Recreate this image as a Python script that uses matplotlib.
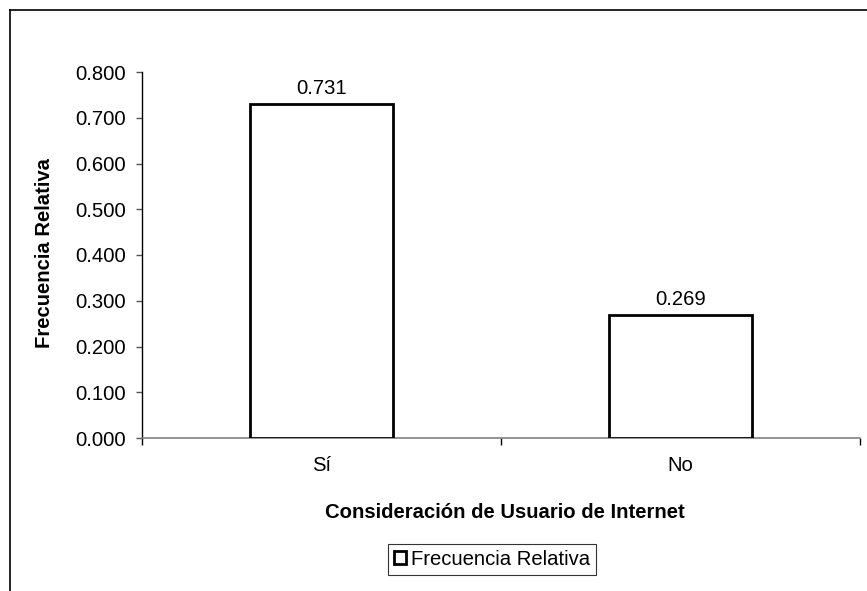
import matplotlib
matplotlib.use("Agg")
import matplotlib.pyplot as plt
from matplotlib.lines import Line2D
from matplotlib.patches import Patch

categories = ["Sí", "No"]
values = [0.731, 0.269]
value_labels = ["0.731", "0.269"]
yticks = [0.0, 0.1, 0.2, 0.3, 0.4, 0.5, 0.6, 0.7, 0.8]
series_name = "Frecuencia Relativa"
xlabel = "Consideración de Usuario de Internet"
ylabel = "Frecuencia Relativa"

plt.rcParams['font.family'] = ['Liberation Sans', 'DejaVu Sans']
FS = 14.6

W, H = 867, 591
fig = plt.figure(figsize=(W / 100, H / 100), dpi=100)
ax = fig.add_axes([142 / W, 1 - 438 / H, (860 - 142) / W, (438 - 72) / H])

x = list(range(len(categories)))
ax.bar(x, values, width=0.4, color="white", edgecolor="black", linewidth=2, zorder=3)
for xi, v, lab in zip(x, values, value_labels):
    ax.annotate(lab, (xi, v), xytext=(0, 4), textcoords="offset points",
                ha="center", va="bottom", fontsize=FS)

ax.set_xlim(-0.5, len(categories) - 0.5)
ax.set_ylim(0, 0.8)
ax.set_yticks(yticks)
ax.set_yticklabels([f"{t:.3f}" for t in yticks], fontsize=FS)
ax.set_xticks(x)
ax.set_xticklabels(categories, fontsize=FS)
ax.tick_params(axis="x", length=0, pad=13)
ax.tick_params(axis="y", length=4, width=1, color="#555555", pad=7.5)
# category boundary ticks
ax.set_xticks([-0.5, 0.5, 1.5], minor=True)
ax.tick_params(axis="x", which="minor", length=5, width=1, color="black", direction="out")

for s in ["top", "right"]:
    ax.spines[s].set_visible(False)
ax.spines["left"].set_color("black")
ax.spines["left"].set_linewidth(1)
ax.spines["bottom"].set_color("#808080")
ax.spines["bottom"].set_linewidth(1.2)

fig.text(505 / W, 1 - 513 / H, xlabel, ha="center", va="center", fontsize=FS, fontweight="bold")
fig.text(45 / W, 1 - 253 / H, ylabel, ha="center", va="center", rotation=90, fontsize=FS, fontweight="bold")

handle = Patch(facecolor="white", edgecolor="black", linewidth=2)
leg = fig.legend([handle], [series_name], loc="center", bbox_to_anchor=(492 / W, 1 - 559.5 / H),
                 fontsize=FS, frameon=True, fancybox=False, handlelength=0.6, handleheight=0.6,
                 handletextpad=0.25, borderpad=0.3, borderaxespad=0, edgecolor="black")
leg.get_frame().set_linewidth(0.8)

# outer chart border (top and left visible)
fig.add_artist(Line2D([10 / W, 10 / W], [0, 1 - 10 / H], transform=fig.transFigure, color="black", linewidth=1.2))
fig.add_artist(Line2D([10 / W, 1], [1 - 10 / H, 1 - 10 / H], transform=fig.transFigure, color="black", linewidth=1.2))

fig.savefig("out.png", dpi=100, facecolor="white")
